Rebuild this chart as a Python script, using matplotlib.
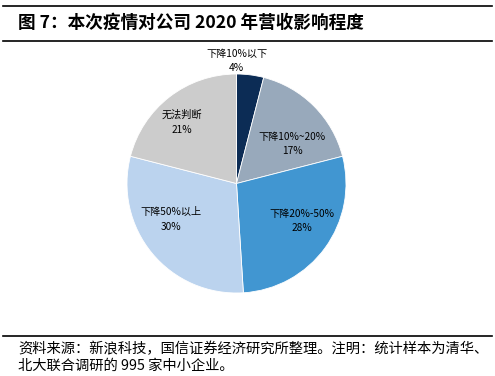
import matplotlib
matplotlib.use("Agg")
import matplotlib.pyplot as plt

plt.rcParams['font.family'] = ['Noto Sans CJK SC', 'DejaVu Sans']

categories = ['下降10%以下', '下降10%~20%', '下降20%-50%', '下降50%以上', '无法判断']
shares = [4, 17, 28, 30, 21]
colors = ['#0C2C55', '#98A9BB', '#4196D1', '#BBD3EE', '#CCCCCC']
# label centres in pie units (radius = 1)
label_pos = [(0.0, 1.12), (0.51, 0.36), (0.60, -0.34), (-0.60, -0.33), (-0.50, 0.56)]

fig = plt.figure(figsize=(4.95, 3.76), dpi=100)

# header / footer rules
for y in [1 - 6 / 376, 1 - 41 / 376, 1 - 336 / 376]:
    fig.add_artist(plt.Line2D([3 / 495, 492 / 495], [y, y], color='black', lw=1.2))

fig.text(18 / 495, 1 - 23 / 376, '图 7：本次疫情对公司 2020 年营收影响程度',
         fontsize=12.7, fontweight='bold', va='center', ha='left')
fig.text(18 / 495, 1 - 349 / 376, '资料来源：新浪科技，国信证券经济研究所整理。注明：统计样本为清华、',
         fontsize=10.3, va='center', ha='left')
fig.text(18 / 495, 1 - 366 / 376, '北大联合调研的 995 家中小企业。',
         fontsize=10.3, va='center', ha='left')

cx, cy, r = 236.5, 183.5, 109.5
ax = fig.add_axes([(cx - r) / 495, (376 - cy - r) / 376, 2 * r / 495, 2 * r / 376])
ax.pie(shares, colors=colors, startangle=90, counterclock=False, radius=1,
       wedgeprops=dict(edgecolor='white', linewidth=0.6))
ax.set_xlim(-1, 1)
ax.set_ylim(-1, 1)
ax.set_aspect('equal')
ax.axis('off')

for name, val, (x, y) in zip(categories, shares, label_pos):
    ax.text(x, y, f'{name}\n{val}%', ha='center', va='center', fontsize=7.3,
            linespacing=1.55, clip_on=False)

fig.savefig('out.png', dpi=100)
